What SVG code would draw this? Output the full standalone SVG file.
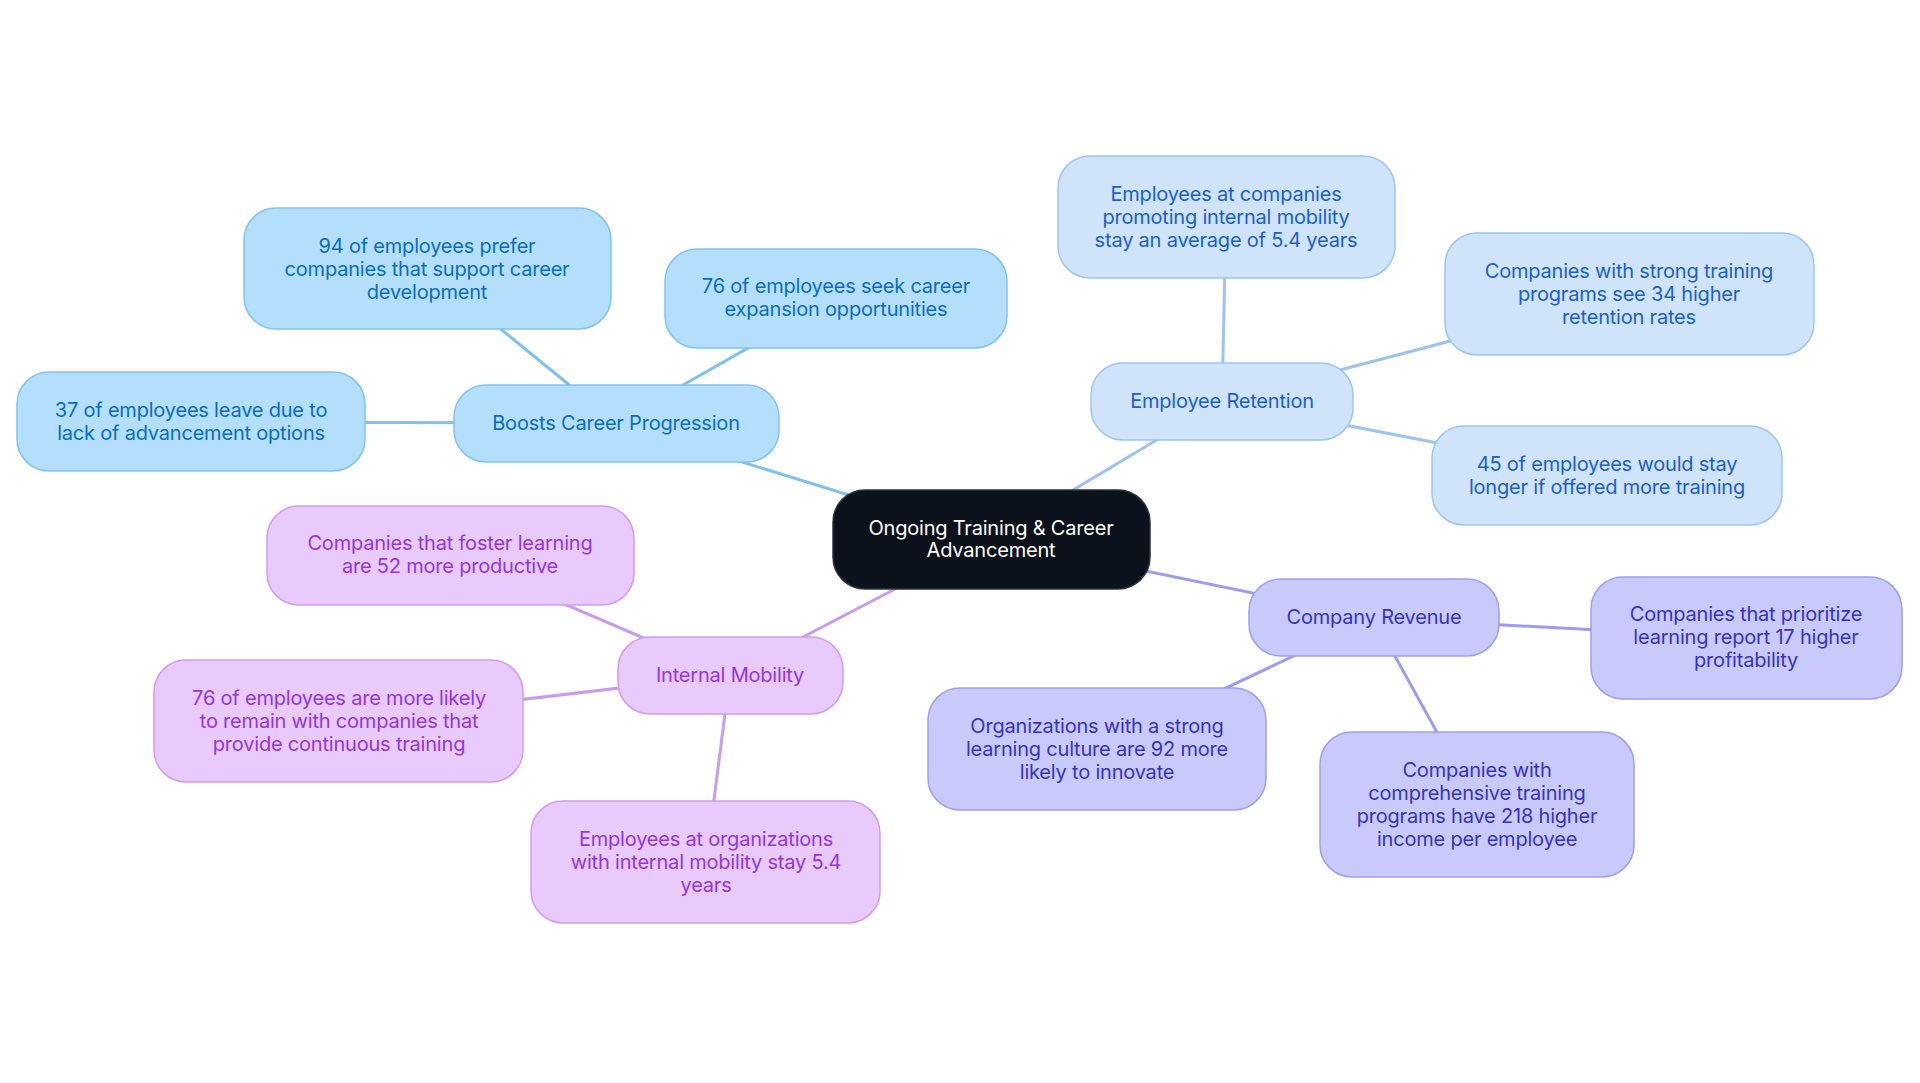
<svg xmlns="http://www.w3.org/2000/svg" width="1920" height="1083" viewBox="0 0 1920 1083">
<style>
text{font-family:Inter,"Noto Sans","Liberation Sans",sans-serif;font-size:20px;text-anchor:middle;letter-spacing:-0.2px}
.b rect{fill:#b3dffc;stroke:#80c3f2;stroke-width:1.5}
.b text{fill:#0a6cc4}
.r rect{fill:#cfe3fb;stroke:#9cc5f3;stroke-width:1.5}
.r text{fill:#1a5fd2}
.v rect{fill:#c8cafc;stroke:#9c9ff5;stroke-width:1.5}
.v text{fill:#3632c8}
.p rect{fill:#e8cafc;stroke:#d09cf3;stroke-width:1.5}
.p text{fill:#9236e6}
.c rect{fill:#0c121b;stroke:#2a3038;stroke-width:1.5}
.c text{fill:#ffffff;font-size:20px}
#connectors line{stroke-width:3;fill:none}
.lb{stroke:#7fc2ef}.lr{stroke:#9dc4f1}.lv{stroke:#9a9df2}.lp{stroke:#c99bf1}
</style>
<rect width="1920" height="1083" fill="#ffffff"/>
<g id="connectors">
<line class="lb" x1="991" y1="539" x2="616" y2="423"/>
<line class="lb" x1="616" y1="423" x2="427" y2="269"/>
<line class="lb" x1="616" y1="423" x2="836" y2="298"/>
<line class="lb" x1="616" y1="423" x2="191" y2="422"/>
<line class="lr" x1="991" y1="539" x2="1222" y2="401"/>
<line class="lr" x1="1222" y1="401" x2="1226" y2="217"/>
<line class="lr" x1="1222" y1="401" x2="1629" y2="294"/>
<line class="lr" x1="1222" y1="401" x2="1607" y2="476"/>
<line class="lv" x1="991" y1="539" x2="1374" y2="618"/>
<line class="lv" x1="1374" y1="618" x2="1746" y2="638"/>
<line class="lv" x1="1374" y1="618" x2="1097" y2="749"/>
<line class="lv" x1="1374" y1="618" x2="1477" y2="805"/>
<line class="lp" x1="991" y1="539" x2="730" y2="675"/>
<line class="lp" x1="730" y1="675" x2="450" y2="555"/>
<line class="lp" x1="730" y1="675" x2="339" y2="721"/>
<line class="lp" x1="730" y1="675" x2="706" y2="862"/>
</g>
<g id="root" class="c">
<rect x="833" y="490" width="317" height="99" rx="32"/>
<text x="991" y="535">Ongoing Training &amp; Career</text>
<text x="991" y="557">Advancement</text>
</g>
<g id="n-boosts" class="b">
<rect x="454" y="385" width="325" height="77" rx="32"/>
<text x="616" y="430">Boosts Career Progression</text>
</g>
<g id="n-b1" class="b">
<rect x="244" y="208" width="367" height="121" rx="32"/>
<text x="427" y="253">94 of employees prefer</text>
<text x="427" y="276">companies that support career</text>
<text x="427" y="299">development</text>
</g>
<g id="n-b2" class="b">
<rect x="665" y="249" width="342" height="99" rx="32"/>
<text x="836" y="293">76 of employees seek career</text>
<text x="836" y="316">expansion opportunities</text>
</g>
<g id="n-b3" class="b">
<rect x="17" y="372" width="348" height="99" rx="32"/>
<text x="191" y="417">37 of employees leave due to</text>
<text x="191" y="440">lack of advancement options</text>
</g>
<g id="n-retention" class="r">
<rect x="1091" y="363" width="262" height="77" rx="32"/>
<text x="1222" y="408">Employee Retention</text>
</g>
<g id="n-r1" class="r">
<rect x="1058" y="156" width="337" height="122" rx="32"/>
<text x="1226" y="201">Employees at companies</text>
<text x="1226" y="224">promoting internal mobility</text>
<text x="1226" y="247">stay an average of 5.4 years</text>
</g>
<g id="n-r2" class="r">
<rect x="1445" y="233" width="369" height="122" rx="32"/>
<text x="1629" y="278">Companies with strong training</text>
<text x="1629" y="301">programs see 34 higher</text>
<text x="1629" y="324">retention rates</text>
</g>
<g id="n-r3" class="r">
<rect x="1432" y="426" width="350" height="99" rx="32"/>
<text x="1607" y="471">45 of employees would stay</text>
<text x="1607" y="494">longer if offered more training</text>
</g>
<g id="n-revenue" class="v">
<rect x="1249" y="579" width="250" height="77" rx="32"/>
<text x="1374" y="624">Company Revenue</text>
</g>
<g id="n-v1" class="v">
<rect x="1591" y="577" width="311" height="122" rx="32"/>
<text x="1746" y="621">Companies that prioritize</text>
<text x="1746" y="644">learning report 17 higher</text>
<text x="1746" y="667">profitability</text>
</g>
<g id="n-v2" class="v">
<rect x="928" y="688" width="338" height="122" rx="32"/>
<text x="1097" y="733">Organizations with a strong</text>
<text x="1097" y="756">learning culture are 92 more</text>
<text x="1097" y="779">likely to innovate</text>
</g>
<g id="n-v3" class="v">
<rect x="1320" y="732" width="314" height="145" rx="32"/>
<text x="1477" y="777">Companies with</text>
<text x="1477" y="800">comprehensive training</text>
<text x="1477" y="823">programs have 218 higher</text>
<text x="1477" y="846">income per employee</text>
</g>
<g id="n-mobility" class="p">
<rect x="618" y="637" width="225" height="77" rx="32"/>
<text x="730" y="682">Internal Mobility</text>
</g>
<g id="n-p1" class="p">
<rect x="267" y="506" width="367" height="99" rx="32"/>
<text x="450" y="550">Companies that foster learning</text>
<text x="450" y="573">are 52 more productive</text>
</g>
<g id="n-p2" class="p">
<rect x="154" y="660" width="369" height="122" rx="32"/>
<text x="339" y="705">76 of employees are more likely</text>
<text x="339" y="728">to remain with companies that</text>
<text x="339" y="751">provide continuous training</text>
</g>
<g id="n-p3" class="p">
<rect x="531" y="801" width="349" height="122" rx="32"/>
<text x="706" y="846">Employees at organizations</text>
<text x="706" y="869">with internal mobility stay 5.4</text>
<text x="706" y="892">years</text>
</g>
</svg>
